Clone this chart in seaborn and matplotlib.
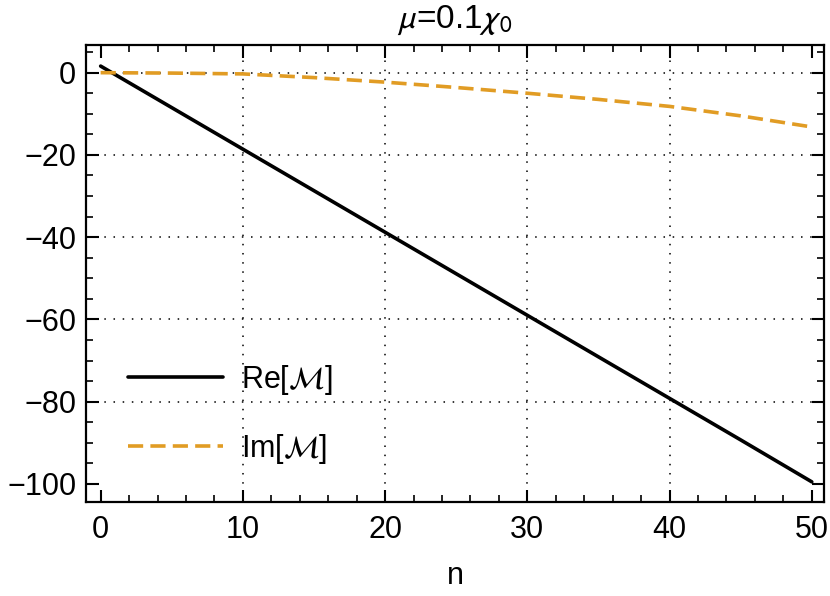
import numpy as np
import pandas as pd
import matplotlib
matplotlib.use('Agg')
import matplotlib.pyplot as plt
import seaborn as sns
from matplotlib.ticker import MultipleLocator

# values
n_vals = [0, 5, 10, 15, 20, 25, 30, 35, 40, 45, 50]
re_vals = [1.6, -8.5, -18.6, -28.7, -38.8, -48.9, -59.0, -69.1, -79.2, -89.3, -99.5]
im_vals = [0.0, -0.1, -0.3, -1.2, -2.3, -3.6, -5.0, -6.5, -8.2, -10.5, -13.2]

df = pd.DataFrame({'n': n_vals, 're': re_vals, 'im': im_vals})

sns.set_theme(style='ticks')
plt.rcParams['font.family'] = ['Liberation Sans', 'DejaVu Sans']
plt.rcParams['mathtext.fontset'] = 'stixsans'
plt.rcParams['text.color'] = 'black'

fig = plt.figure(figsize=(8.3, 5.96), dpi=100)
ax = fig.add_axes([0.1036, 0.1577, 0.8892, 0.7668])

sns.lineplot(data=df, x='n', y='re', ax=ax, color='black', linewidth=2.6,
             label=r'Re[$\mathcal{M}$]')
sns.lineplot(data=df, x='n', y='im', ax=ax, color='#E19C24', linewidth=2.6,
             dashes=False, label=r'Im[$\mathcal{M}$]')
ax.lines[1].set_dashes((4.2, 2.0))

ax.set_xlim(-1.03, 50.86)
ax.set_ylim(-104.4, 6.73)
ax.xaxis.set_major_locator(MultipleLocator(10))
ax.xaxis.set_minor_locator(MultipleLocator(2))
ax.yaxis.set_major_locator(MultipleLocator(20))
ax.yaxis.set_minor_locator(MultipleLocator(5))
ax.set_yticks([0, -20, -40, -60, -80, -100])
ax.set_yticklabels(['0', '\u221220', '\u221240', '\u221260', '\u221280', '\u2212100'])

# dotted grid only on the inner major ticks
for gx in [10, 20, 30, 40]:
    ax.axvline(gx, color='black', linestyle=(0, (1, 5)), linewidth=1.1, zorder=0)
for gy in [0, -20, -40, -60, -80]:
    ax.axhline(gy, color='black', linestyle=(0, (1, 5)), linewidth=1.1, zorder=0)

ax.tick_params(which='both', direction='in', top=True, right=True,
               labelsize=22, colors='black', labelcolor='black')
ax.tick_params(which='major', length=9, width=1.5)
ax.tick_params(axis='x', which='major', pad=9)
ax.tick_params(axis='y', which='major', pad=7)
ax.tick_params(which='minor', length=5, width=1.2)
# top and right ticks are lighter in the reference
for t in ax.xaxis.get_major_ticks() + ax.xaxis.get_minor_ticks():
    t.tick2line.set_color('#aaaaaa')
for t in ax.yaxis.get_major_ticks() + ax.yaxis.get_minor_ticks():
    t.tick2line.set_color('#aaaaaa')
for sp in ax.spines.values():
    sp.set_linewidth(1.6)
    sp.set_color('black')

ax.set_xlabel('n', fontsize=22, labelpad=12, color='black')
ax.set_ylabel('')
ax.set_title(r'$\mu$=0.1$\chi_0$', fontsize=24, pad=12, color='black')

ax.legend(loc='upper left', bbox_to_anchor=(0.057, 0.305), frameon=False,
          fontsize=22, handlelength=3.1, handletextpad=0.6, labelspacing=1.15,
          borderpad=0, borderaxespad=0)

fig.savefig('out.png', dpi=100)
